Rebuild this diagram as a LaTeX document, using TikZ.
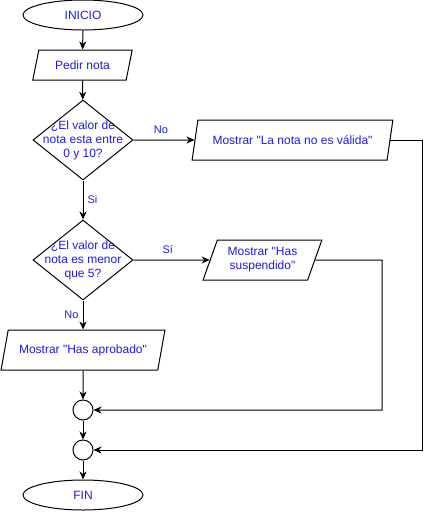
\documentclass[tikz,border=0pt]{standalone}
\usepackage{fontspec}
\setmainfont{Liberation Sans}[Ligatures=TeXOff]
\usetikzlibrary{shapes.geometric,arrows.meta}
\definecolor{txtblue}{RGB}{28,28,222}

\tikzset{
	startstop/.style={draw, line width=1pt, ellipse, minimum width=120, minimum height=30, inner sep=0pt, text=txtblue, font=\fontsize{12}{14}\selectfont},
	inout/.style={draw, line width=1pt, trapezium, trapezium stretches=true, inner sep=1pt, text=txtblue, align=center, font=\fontsize{12}{14}\selectfont},
	decision/.style={draw, line width=1pt, diamond, minimum width=100, minimum height=80, inner sep=0pt},
	qtext/.style={text=txtblue, align=center, inner sep=0pt, font=\fontsize{12}{14}\selectfont},
	joint/.style={draw, line width=1pt, circle, minimum size=20, inner sep=0pt},
	arrow/.style={line width=1pt, -{Stealth[length=8pt, width=7pt, inset=2.5pt]}},
	lbl/.style={text=txtblue, inner sep=0pt, font=\fontsize{11}{13}\selectfont}
}

\begin{document}
\begin{tikzpicture}[x=1pt, y=-1pt]
			%%%%% START %%%%%
			\useasboundingbox (0, 0) rectangle (432, 512);
			
			\node[startstop] (inicio) at (83, 15) {INICIO};
			\node[inout, trapezium left angle=70, trapezium right angle=110, minimum width=100, minimum height=30] (pedir) at (82.5, 65) {Pedir nota};
			
			\node[decision] (rango) at (83, 140) {};
			\node[qtext] (rangotxt) at (rango) {¿El valor de\\nota esta entre\\0 y 10?};
			
			\node[inout, trapezium left angle=65.8, trapezium right angle=114.2, minimum width=201, minimum height=40] (novalida) at (292.5, 140) {Mostrar "La nota no es válida"};
			
			\node[decision] (menor) at (83, 260) {};
			\node[qtext] (menortxt) at (menor) {¿El valor de\\nota es menor\\que 5?};
			
			\node[inout, trapezium left angle=67, trapezium right angle=113, minimum width=119, minimum height=40] (suspenso) at (262.5, 260) {Mostrar "Has\\suspendido"};
			\node[inout, trapezium left angle=64.6, trapezium right angle=115.4, minimum width=164, minimum height=40] (aprobado) at (83, 350) {Mostrar "Has aprobado"};
			
			\node[joint] (union1) at (83, 410) {};
			\node[joint] (union2) at (83, 450) {};
			\node[startstop] (fin) at (83, 495) {FIN};
			
			\coordinate (giro1) at (422, 140);
			\coordinate (giro2) at (382, 260);
			
			\draw[arrow] (inicio) -- (pedir);
			\draw[arrow] (pedir) -- (rango);
			\draw[arrow] (rango) -- node[lbl, pos=0.45, above=6pt] {No} (novalida);
			\draw[arrow] (rango) -- node[lbl, right=4pt] {Si} (menor);
			\draw[arrow] (menor) -- node[lbl, pos=0.45, above=6pt] {Sí} (suspenso);
			\draw[arrow] (menor) -- node[lbl, pos=0.5, left=4pt] {No} (aprobado);
			\draw[arrow] (aprobado) -- (union1);
			\draw[arrow] (union1) -- (union2);
			\draw[arrow] (union2) -- (fin);
			
			\draw[arrow] (suspenso.east) -- (giro2) |- (union1);
			\draw[arrow] (novalida.east) -- (giro1) |- (union2);
			
			%%%%% END %%%%%
		\end{tikzpicture}
\end{document}
